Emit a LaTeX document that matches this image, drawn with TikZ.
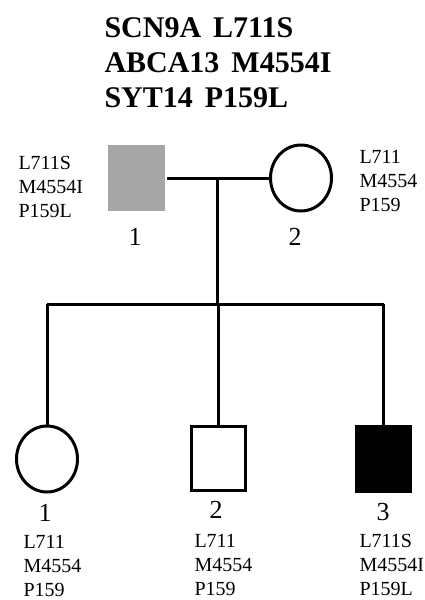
\documentclass[tikz,border=0pt]{standalone}
\usepackage{fontspec}
\setmainfont{Liberation Serif}
\usetikzlibrary{shapes.geometric}
\definecolor{carrier}{HTML}{A6A6A6}

\begin{document}
\begin{tikzpicture}[x=1pt,y=-1pt,line width=3pt,
  male/.style={draw,rectangle,minimum width=54pt,minimum height=64pt,inner sep=0},
  female/.style={draw,ellipse,minimum width=61pt,minimum height=66pt,inner sep=0},
  geno/.style={anchor=north west,inner sep=0,align=left,font=\fontsize{20}{24}\selectfont},
  num/.style={inner sep=0,font=\fontsize{26}{26}\selectfont}]
  \useasboundingbox (0,0) rectangle (424,600);
  % variants
  \node[anchor=north west,inner sep=0,align=left,font=\bfseries\fontsize{30}{35}\selectfont] (title) at (103,16)
    {SCN9A\hspace{0.4em}L711S\\ABCA13\hspace{0.4em}M4554I\\SYT14\hspace{0.4em}P159L};
  % parents
  \node[male,draw=none,fill=carrier,minimum width=57pt,minimum height=66pt] (f) at (136.5,178) {};
  \node[female] (m) at (301,178) {};
  \node[num] (nf) at (135,237) {1};
  \node[num] (nm) at (295,237) {2};
  \node[geno] (gf) at (17,155) {L711S\\M4554I\\P159L};
  \node[geno] (gm) at (358,149) {L711\\M4554\\P159};
  % children
  \node[female] (c1) at (47,459) {};
  \node[male,fill=white] (c2) at (218,458) {};
  \node[male,fill=black,minimum height=65pt] (c3) at (383.5,459) {};
  \node[num] (n1) at (45,513) {1};
  \node[num] (n2) at (216,510) {2};
  \node[num] (n3) at (383,512) {3};
  \node[geno] (g1) at (22,534) {L711\\M4554\\P159};
  \node[geno] (g2) at (193,533) {L711\\M4554\\P159};
  \node[geno] (g3) at (358,533) {L711S\\M4554I\\P159L};
  % lines
  \coordinate (mid) at (217,178);
  \coordinate (sib) at (217,304);
  \coordinate (s1) at (c1.north |- sib);
  \coordinate (s2) at (c2.north |- sib);
  \coordinate (s3) at (c3.north |- sib);
  \draw (f.east) -- (m.west);
  \draw (mid) -- (sib);
  \draw (s1) -- (s3);
  \foreach \k in {1,2,3} {
    \draw (s\k) -- (c\k.north);
  }
\end{tikzpicture}
\end{document}
